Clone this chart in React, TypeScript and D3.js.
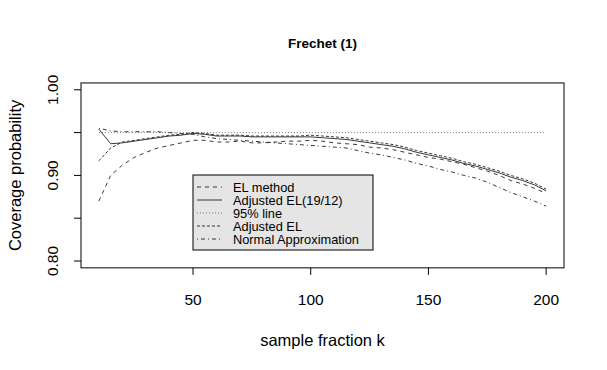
import React from "react";
import * as d3 from "d3";

const ks = [10,15,20,25,30,35,40,45,50,55,60,65,70,75,80,85,90,95,100,105,110,115,120,125,130,135,140,145,150,155,160,165,170,175,180,185,190,195,200];

const elMethod = [0.870,0.900,0.912,0.921,0.927,0.932,0.935,0.938,0.941,0.941,0.939,0.939,0.940,0.938,0.938,0.939,0.940,0.940,0.941,0.940,0.938,0.937,0.936,0.933,0.932,0.930,0.927,0.924,0.921,0.919,0.916,0.913,0.909,0.905,0.900,0.894,0.890,0.885,0.879];
const adjEL1912 = [0.954,0.937,0.938,0.940,0.942,0.944,0.946,0.947,0.949,0.948,0.946,0.946,0.946,0.945,0.945,0.945,0.945,0.945,0.945,0.944,0.943,0.942,0.940,0.938,0.936,0.934,0.931,0.927,0.924,0.921,0.918,0.914,0.911,0.907,0.903,0.898,0.894,0.889,0.882];
const line95 = ks.map(() => 0.95);
const adjEL = [0.917,0.932,0.939,0.941,0.943,0.945,0.947,0.948,0.950,0.949,0.947,0.947,0.947,0.946,0.946,0.946,0.946,0.946,0.947,0.946,0.945,0.944,0.942,0.940,0.938,0.936,0.933,0.929,0.926,0.923,0.920,0.916,0.913,0.909,0.905,0.900,0.896,0.891,0.884];
const normalApprox = [0.955,0.952,0.951,0.951,0.951,0.951,0.950,0.949,0.948,0.945,0.943,0.942,0.941,0.940,0.939,0.938,0.937,0.936,0.935,0.934,0.933,0.932,0.929,0.926,0.924,0.921,0.918,0.914,0.911,0.907,0.904,0.900,0.897,0.892,0.886,0.880,0.875,0.870,0.864];

const xTicks = [50, 100, 150, 200];
const yTicks = [0.80, 0.85, 0.90, 0.95, 1.00];
const yTickLabels = ["0.80", "", "0.90", "", "1.00"];

const seriesNames = ["EL method", "Adjusted EL(19/12)", "95% line", "Adjusted EL", "Normal Approximation"];
const seriesData = [elMethod, adjEL1912, line95, adjEL, normalApprox];
const dashes = ["4,4", "", "1,2", "3,2", "1,3,4,3"];
const strokes = ["#222", "#222", "#666", "#222", "#222"];

export default function App() {
  const W = 607, H = 370;
  const x = d3.scaleLinear().domain([2.4, 207.6]).range([81, 564]);
  const y = d3.scaleLinear().domain([0.8, 1.0]).range([261, 89.8]);
  const bx0 = x(2.4), bx1 = x(207.6), by0 = y(1.008), by1 = y(0.792);
  const line = d3.line<number>().x((_, i) => x(ks[i])).y((d) => y(d));
  const font = "Liberation Sans, Arial, Helvetica, sans-serif";
  const lg = { x: 193, y: 175, w: 180, h: 75 };
  return (
    <svg width={W} height={H} style={{ position: "absolute", left: 0, top: 0, background: "#fff" }} fontFamily={font}>
      <rect x={0} y={0} width={W} height={H} fill="#fff" />
      <text x={(bx0 + bx1) / 2} y={48} textAnchor="middle" fontSize={13.5} fontWeight="bold">Frechet (1)</text>
      {seriesData.map((s, i) => (
        <path key={i} d={line(s) || ""} fill="none" stroke={strokes[i]} strokeWidth={0.9} strokeDasharray={dashes[i]} />
      ))}
      <rect x={bx0} y={by0} width={bx1 - bx0} height={by1 - by0} fill="none" stroke="#000" strokeWidth={1} />
      {xTicks.map((t) => (
        <g key={t}>
          <line x1={x(t)} x2={x(t)} y1={by1} y2={by1 + 7} stroke="#000" />
          <text x={x(t)} y={305} textAnchor="middle" fontSize={15.5}>{t}</text>
        </g>
      ))}
      {yTicks.map((t, i) => (
        <g key={t}>
          <line x1={bx0} x2={bx0 - 7} y1={y(t)} y2={y(t)} stroke="#000" />
          {yTickLabels[i] && (
            <text transform={`translate(58,${y(t)}) rotate(-90)`} textAnchor="middle" fontSize={15.5}>{yTickLabels[i]}</text>
          )}
        </g>
      ))}
      <text x={(bx0 + bx1) / 2} y={346} textAnchor="middle" fontSize={16.5}>sample fraction k</text>
      <text transform={`translate(21,${(by0 + by1) / 2}) rotate(-90)`} textAnchor="middle" fontSize={16.5}>Coverage probability</text>
      <rect x={lg.x} y={lg.y} width={lg.w} height={lg.h} fill="#e5e5e5" stroke="#000" strokeWidth={1} />
      {seriesNames.map((n, i) => {
        const ry = 187 + i * 13;
        return (
          <g key={n}>
            <line x1={197} x2={222} y1={ry} y2={ry} stroke={strokes[i]} strokeWidth={0.9} strokeDasharray={dashes[i]} />
            <text x={233} y={ry} dominantBaseline="central" fontSize={12.8}>{n}</text>
          </g>
        );
      })}
    </svg>
  );
}
